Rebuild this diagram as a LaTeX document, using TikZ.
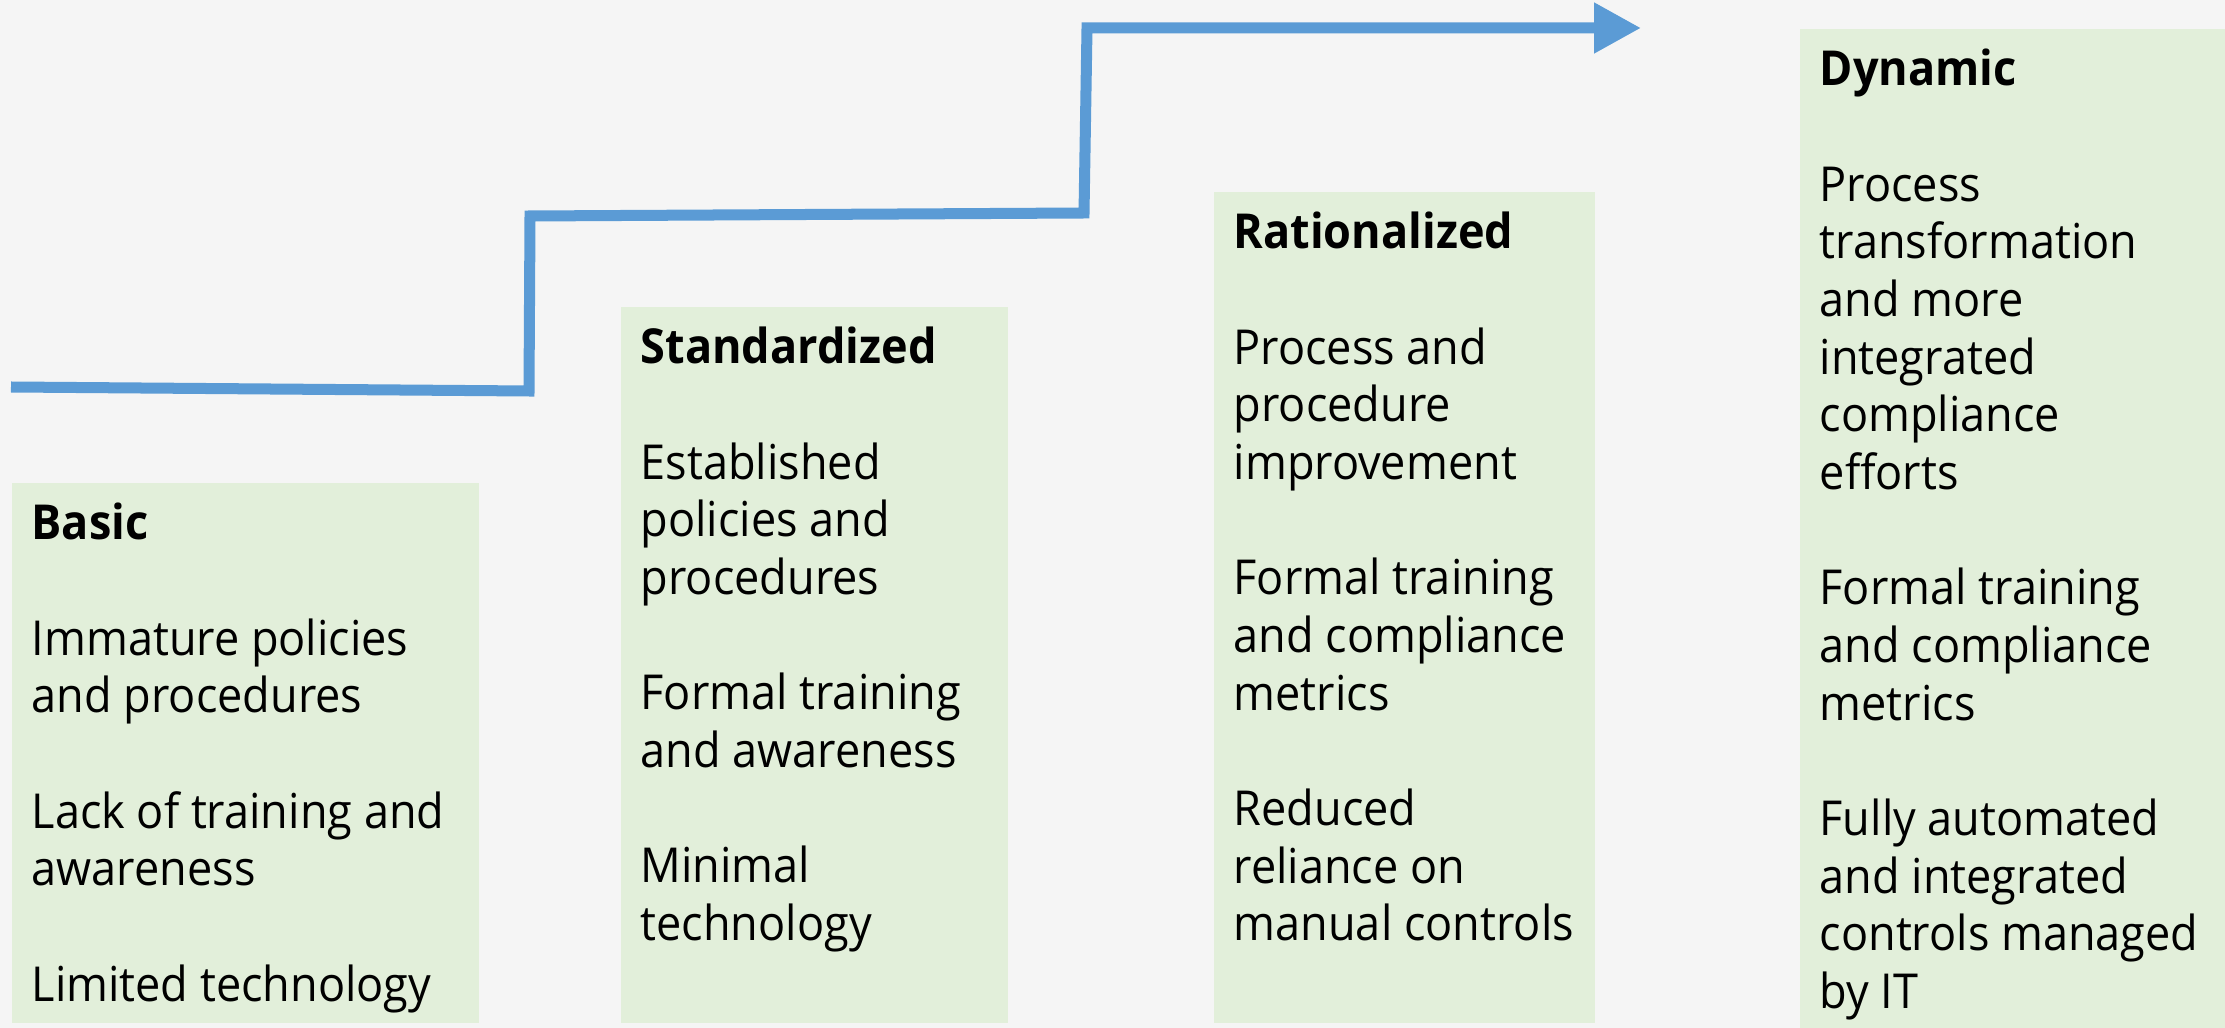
\documentclass[tikz,border=0pt]{standalone}
\usepackage{fontspec}
\setmainfont{Open Sans}[FakeStretch=0.935]
\usetikzlibrary{positioning}
\usetikzlibrary{arrows.meta}
\definecolor{stepblue}{HTML}{5B9BD5}
\definecolor{boxgreen}{HTML}{E2EFDA}
\definecolor{bggray}{HTML}{F5F5F5}

\tikzset{
  levelbox/.style={fill=boxgreen, draw=none, inner sep=0pt, anchor=north west},
  leveltext/.style={align=left, inner sep=0pt, font=\fontsize{13.7}{16.4}\selectfont},
  stairs/.style={stepblue, line width=0.11cm, -{Triangle[length=0.47cm,width=0.48cm]}}
}
\newcommand{\gap}{\\[16.4pt]}

\begin{document}
\begin{tikzpicture}[x=0.01cm, y=-0.01cm]

\useasboundingbox (0,0) rectangle (2225,1028);
\fill[bggray] (0,0) rectangle (2225,1028);

% the four level boxes
\node[levelbox, minimum width=4.67cm, minimum height=5.40cm] (basicbox) at (11,482) {};
\node[levelbox, minimum width=3.87cm, minimum height=7.16cm] (stdbox) at (620,306) {};
\node[levelbox, minimum width=3.81cm, minimum height=8.31cm] (ratbox) at (1213,191) {};
\node[levelbox, minimum width=4.26cm, minimum height=10.00cm] (dynbox) at (1799,28) {};

\node[leveltext, below right=0.167cm and 0.2cm of basicbox.north west] (basic) {\strut\textbf{Basic}\gap
Immature policies\\ and procedures\gap
Lack of training and\\ awareness\gap
Limited technology};

\node[leveltext, below right=0.167cm and 0.2cm of stdbox.north west] (std) {\strut\textbf{Standardized}\gap
Established\\ policies and\\ procedures\gap
Formal training\\ and awareness\gap
Minimal\\ technology};

\node[leveltext, below right=0.167cm and 0.2cm of ratbox.north west] (rat) {\strut\textbf{Rationalized}\gap
Process and\\ procedure\\ improvement\gap
Formal training\\ and compliance\\ metrics\gap
Reduced\\ reliance on\\ manual controls};

\node[leveltext, below right=0.167cm and 0.2cm of dynbox.north west] (dyn) {\strut\textbf{Dynamic}\gap
Process\\ transformation\\ and more\\ integrated\\ compliance\\ efforts\gap
Formal training\\ and compliance\\ metrics\gap
Fully automated\\ and integrated\\ controls managed\\ by IT};

% staircase arrow
\coordinate (s0) at (11,387);
\coordinate (s1) at (529,391);
\coordinate (s2) at (530,216);
\coordinate (s3) at (1084,213);
\coordinate (s4) at (1087,28);
\coordinate (s5) at (1641,28);
\draw[stairs] (s0) -- (s1) -- (s2) -- (s3) -- (s4) -- (s5);

\end{tikzpicture}
\end{document}
